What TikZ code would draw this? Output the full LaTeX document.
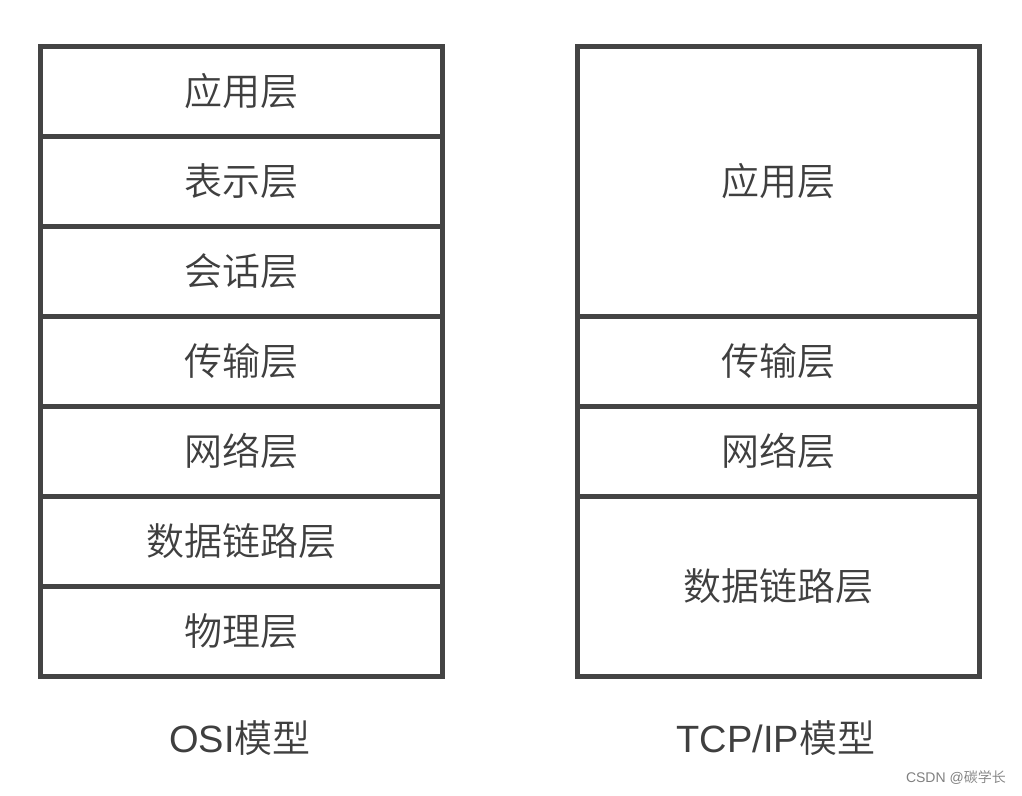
\documentclass[tikz,border=0pt]{standalone}
\usepackage{fontspec}
\setmainfont{Noto Sans CJK SC}[UprightFont={* DemiLight}]
\newfontfamily\latinsf{Liberation Sans}
\usepackage{xcolor}
\usepackage{tikz}
\usetikzlibrary{positioning}
\definecolor{lyline}{HTML}{444444}
\definecolor{lytext}{HTML}{3F3F3F}

\begin{document}
\begin{tikzpicture}[
  x=1pt, y=-1pt,
  font=\fontsize{38}{42}\selectfont,
  ly/.style={draw=lyline, line width=5pt, fill=white, text=lytext,
             minimum width=402pt, minimum height=90pt, inner sep=0pt,
             outer sep=0pt},
  ttl/.style={text=lytext, font=\fontsize{38}{42}\selectfont, inner sep=0pt},
  wm/.style={text=black!50, font=\fontsize{14}{16}\selectfont, inner sep=0pt,
             anchor=east},
]
\fill[white] (0,0) rectangle (1022,795);
\useasboundingbox (0,0) rectangle (1022,795);

% ---- left column: OSI ----
\foreach \t [count=\i] in {应用层, 表示层, 会话层, 传输层, 网络层, 数据链路层, 物理层}
  \node[ly] (osi\i) at (241,1+90*\i) {\t};

% ---- right column: TCP/IP ----
\node[ly, minimum height=270pt] (tcp1) at (778,181) {应用层};
\node[ly] (tcp2) at (778,361) {传输层};
\node[ly] (tcp3) at (778,451) {网络层};
\node[ly, minimum height=180pt] (tcp4) at (778,586) {数据链路层};

% ---- titles ----
\node[ttl] (osiname) at (240,738) {{\latinsf OSI}模型};
\node[ttl] (tcpname) at (776,738) {{\latinsf TCP/IP}模型};

\node[wm] (mark) at (1006,778) {{\latinsf CSDN @}碳学长};
\end{tikzpicture}
\end{document}
